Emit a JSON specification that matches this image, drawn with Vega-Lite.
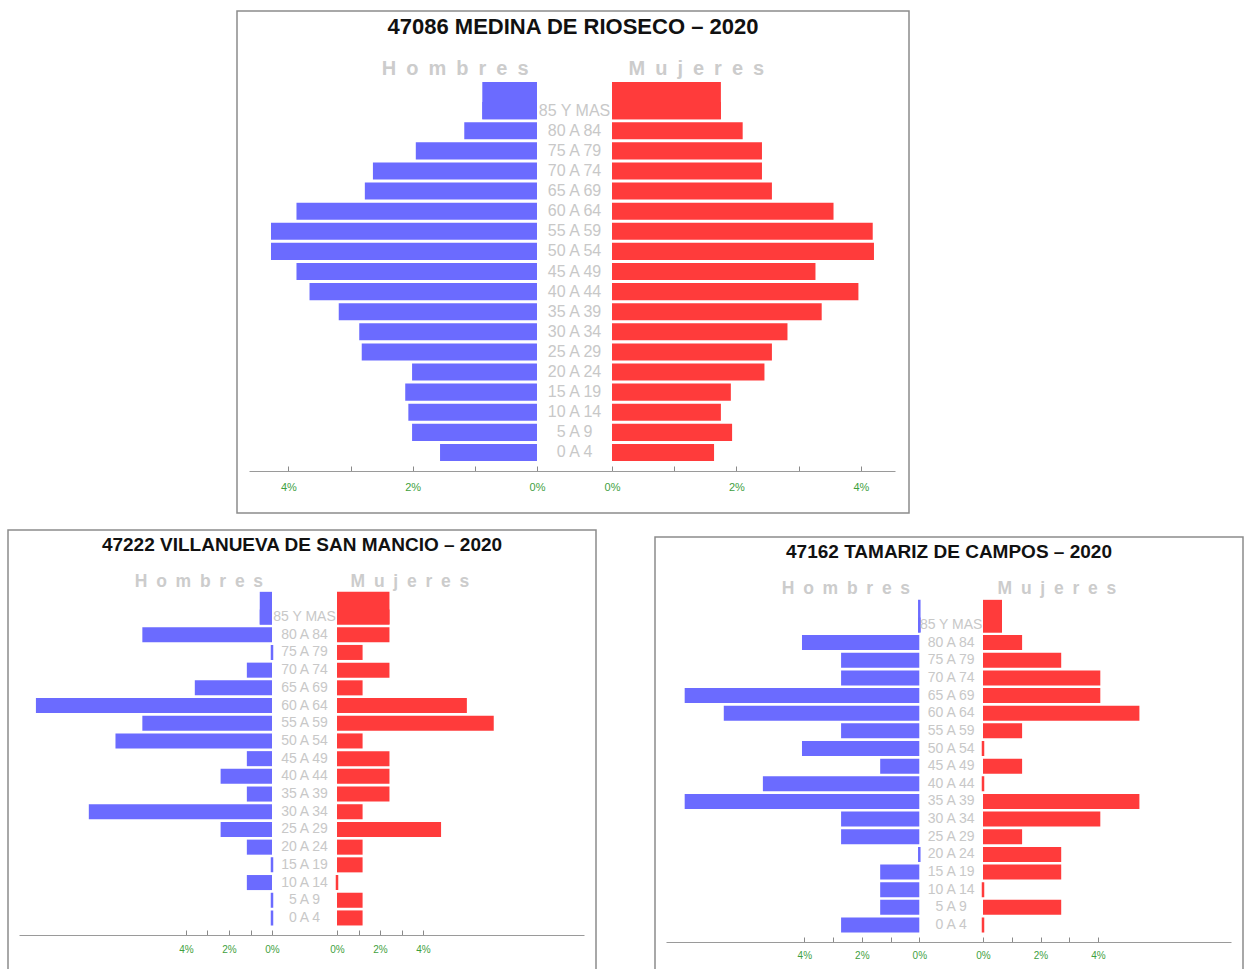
{
  "$schema": "https://vega.github.io/schema/vega-lite/v6.json",
  "background": "white",
  "padding": {"left": 7, "top": 10, "right": 0, "bottom": 0},
  "config": {"view": {"stroke": "#8c8c8c", "strokeWidth": 1.5}, "font": "Liberation Sans"},
  "datasets": {
    "medina": [
      {"age": "85 Y MAS", "h": 0.88, "m": 1.75},
      {"age": "80 A 84", "h": 1.17, "m": 2.10},
      {"age": "75 A 79", "h": 1.95, "m": 2.41},
      {"age": "70 A 74", "h": 2.64, "m": 2.41},
      {"age": "65 A 69", "h": 2.77, "m": 2.57},
      {"age": "60 A 64", "h": 3.87, "m": 3.56},
      {"age": "55 A 59", "h": 4.28, "m": 4.19},
      {"age": "50 A 54", "h": 4.28, "m": 4.21},
      {"age": "45 A 49", "h": 3.87, "m": 3.27},
      {"age": "40 A 44", "h": 3.66, "m": 3.96},
      {"age": "35 A 39", "h": 3.19, "m": 3.37},
      {"age": "30 A 34", "h": 2.86, "m": 2.82},
      {"age": "25 A 29", "h": 2.82, "m": 2.57},
      {"age": "20 A 24", "h": 2.01, "m": 2.45},
      {"age": "15 A 19", "h": 2.12, "m": 1.91},
      {"age": "10 A 14", "h": 2.07, "m": 1.75},
      {"age": "5 A 9", "h": 2.01, "m": 1.93},
      {"age": "0 A 4", "h": 1.56, "m": 1.64}
    ],
    "villanueva": [
      {"age": "85 Y MAS", "h": 0.57, "m": 2.44},
      {"age": "80 A 84", "h": 6.03, "m": 2.44},
      {"age": "75 A 79", "h": 0, "m": 1.19},
      {"age": "70 A 74", "h": 1.17, "m": 2.44},
      {"age": "65 A 69", "h": 3.59, "m": 1.19},
      {"age": "60 A 64", "h": 10.98, "m": 6.04},
      {"age": "55 A 59", "h": 6.03, "m": 7.29},
      {"age": "50 A 54", "h": 7.28, "m": 1.19},
      {"age": "45 A 49", "h": 1.17, "m": 2.44},
      {"age": "40 A 44", "h": 2.39, "m": 2.44},
      {"age": "35 A 39", "h": 1.17, "m": 2.44},
      {"age": "30 A 34", "h": 8.52, "m": 1.19},
      {"age": "25 A 29", "h": 2.39, "m": 4.84},
      {"age": "20 A 24", "h": 1.17, "m": 1.19},
      {"age": "15 A 19", "h": 0, "m": 1.19},
      {"age": "10 A 14", "h": 1.17, "m": 0},
      {"age": "5 A 9", "h": 0, "m": 1.19},
      {"age": "0 A 4", "h": 0, "m": 1.19}
    ],
    "tamariz": [
      {"age": "85 Y MAS", "h": 0, "m": 0.66},
      {"age": "80 A 84", "h": 4.08, "m": 1.36},
      {"age": "75 A 79", "h": 2.72, "m": 2.72},
      {"age": "70 A 74", "h": 2.72, "m": 4.08},
      {"age": "65 A 69", "h": 8.16, "m": 4.08},
      {"age": "60 A 64", "h": 6.8, "m": 5.44},
      {"age": "55 A 59", "h": 2.72, "m": 1.36},
      {"age": "50 A 54", "h": 4.08, "m": 0},
      {"age": "45 A 49", "h": 1.36, "m": 1.36},
      {"age": "40 A 44", "h": 5.44, "m": 0},
      {"age": "35 A 39", "h": 8.16, "m": 5.44},
      {"age": "30 A 34", "h": 2.72, "m": 4.08},
      {"age": "25 A 29", "h": 2.72, "m": 1.36},
      {"age": "20 A 24", "h": 0, "m": 2.72},
      {"age": "15 A 19", "h": 1.36, "m": 2.72},
      {"age": "10 A 14", "h": 1.36, "m": 0},
      {"age": "5 A 9", "h": 1.36, "m": 2.72},
      {"age": "0 A 4", "h": 2.72, "m": 0}
    ]
  },
  "spacing": 15,
  "vconcat": [
    {
      "spacing": 10,
      "hconcat": [
        {"width": 218, "height": 1, "data": {"values": [{"a": 0}]}, "mark": {"type": "point", "size": 0, "opacity": 0}, "encoding": {}, "view": {"stroke": null}},
        {
          "width": 672, "height": 502,
          "data": {"name": "medina"},
          "title": {"text": "47086 MEDINA DE RIOSECO \u2013 2020", "subtitle": "H\u2002o\u2002m\u2002b\u2002r\u2002e\u2002s\u2003\u2003\u2003\u2003\u2003M\u2002u\u2002j\u2002e\u2002r\u2002e\u2002s\u2002", "anchor": "middle", "frame": "group", "offset": -69, "font": "Liberation Sans", "fontSize": 22, "fontWeight": "bold", "color": "#111111", "subtitleFont": "Liberation Sans", "subtitleFontSize": 20, "subtitleFontWeight": "bold", "subtitleColor": "#cccccc", "subtitlePadding": 20},
          "resolve": {"scale": {"x": "independent"}},
          "layer": [
            {
              "mark": {"type": "bar", "color": "#6b6bff", "strokeWidth": 2.5},
              "encoding": {
                "y": {"field": "age", "type": "nominal", "axis": null, "scale": {"domain": ["TOP","85 Y MAS","80 A 84","75 A 79","70 A 74","65 A 69","60 A 64","55 A 59","50 A 54","45 A 49","40 A 44","35 A 39","30 A 34","25 A 29","20 A 24","15 A 19","10 A 14","5 A 9","0 A 4"], "range": [69.5, 451.5], "paddingInner": 0.15, "paddingOuter": 0.075}},
                "x": {"field": "h", "type": "quantitative", "scale": {"domain": [-1.207, 4.634], "range": [375, 12], "nice": false, "zero": false}, "axis": {"orient": "bottom", "offset": -42, "values": [0,1,2,3,4], "labelExpr": "datum.value % 2 === 0 ? datum.value + '%' : ''", "title": null, "grid": false, "domainColor": "#9a9a9a", "tickColor": "#8a8a8a", "tickSize": -5, "labelColor": "#3f9f3f", "labelFontSize": 11, "labelPadding": 15, "labelFlush": false, "labelFont": "Liberation Sans"}},
                "stroke": {"condition": {"test": "datum.h === 0", "value": "#6b6bff"}, "value": null}
              }
            },
            {
              "transform": [{"filter": "datum.age === '85 Y MAS'"}],
              "mark": {"type": "bar", "color": "#6b6bff", "strokeWidth": 2.5, "height": {"band": 2.1765}, "yOffset": -10.05},
              "encoding": {
                "y": {"field": "age", "type": "nominal", "axis": null},
                "x": {"field": "h", "type": "quantitative", "scale": {"domain": [-1.207, 4.634], "range": [375, 12], "nice": false, "zero": false}, "axis": null},
                "stroke": {"condition": {"test": "datum.h === 0", "value": "#6b6bff"}, "value": null}
              }
            },
            {
              "mark": {"type": "bar", "color": "#ff3b3b", "strokeWidth": 2.5},
              "encoding": {
                "y": {"field": "age", "type": "nominal", "axis": null},
                "x": {"field": "m", "type": "quantitative", "scale": {"domain": [0, 4.548], "range": [375, 658], "nice": false, "zero": false}, "axis": {"orient": "bottom", "offset": -42, "values": [0,1,2,3,4], "labelExpr": "datum.value % 2 === 0 ? datum.value + '%' : ''", "title": null, "grid": false, "domainColor": "#9a9a9a", "tickColor": "#8a8a8a", "tickSize": -5, "labelColor": "#3f9f3f", "labelFontSize": 11, "labelPadding": 15, "labelFlush": false, "labelFont": "Liberation Sans"}},
                "stroke": {"condition": {"test": "datum.m === 0", "value": "#ff3b3b"}, "value": null}
              }
            },
            {
              "transform": [{"filter": "datum.age === '85 Y MAS'"}],
              "mark": {"type": "bar", "color": "#ff3b3b", "strokeWidth": 2.5, "height": {"band": 2.1765}, "yOffset": -10.05},
              "encoding": {
                "y": {"field": "age", "type": "nominal", "axis": null},
                "x": {"field": "m", "type": "quantitative", "scale": {"domain": [0, 4.548], "range": [375, 658], "nice": false, "zero": false}, "axis": null},
                "stroke": {"condition": {"test": "datum.m === 0", "value": "#ff3b3b"}, "value": null}
              }
            },
            {
              "mark": {"type": "text", "font": "Liberation Sans", "fontSize": 16, "color": "#c8c8c8"},
              "encoding": {
                "y": {"field": "age", "type": "nominal", "axis": null},
                "x": {"datum": 0, "type": "quantitative", "scale": {"domain": [-1, 1], "range": [300, 375]}, "axis": null},
                "text": {"field": "age"}
              }
            }
          ]
        }
      ]
    },
    {
      "spacing": 57,
      "hconcat": [
        {
          "width": 588, "height": 445,
          "data": {"name": "villanueva"},
          "title": {"text": "47222 VILLANUEVA DE SAN MANCIO \u2013 2020", "subtitle": "H\u2002o\u2002m\u2002b\u2002r\u2002e\u2002s\u2003\u2003\u2003\u2003\u2003M\u2002u\u2002j\u2002e\u2002r\u2002e\u2002s\u2002", "anchor": "middle", "frame": "group", "offset": -60, "font": "Liberation Sans", "fontSize": 19, "fontWeight": "bold", "color": "#111111", "subtitleFont": "Liberation Sans", "subtitleFontSize": 17.5, "subtitleFontWeight": "bold", "subtitleColor": "#cccccc", "subtitlePadding": 18},
          "resolve": {"scale": {"x": "independent"}},
          "layer": [
            {
              "mark": {"type": "bar", "color": "#6b6bff", "strokeWidth": 2.5},
              "encoding": {
                "y": {"field": "age", "type": "nominal", "axis": null, "scale": {"domain": ["TOP","85 Y MAS","80 A 84","75 A 79","70 A 74","65 A 69","60 A 64","55 A 59","50 A 54","45 A 49","40 A 44","35 A 39","30 A 34","25 A 29","20 A 24","15 A 19","10 A 14","5 A 9","0 A 4"], "range": [60.5, 396.8], "paddingInner": 0.15, "paddingOuter": 0.075}},
                "x": {"field": "h", "type": "quantitative", "scale": {"domain": [-3.023, 11.767], "range": [329, 11], "nice": false, "zero": false}, "axis": {"orient": "bottom", "offset": -40, "values": [0,1,2,3,4], "labelExpr": "datum.value % 2 === 0 ? datum.value + '%' : ''", "title": null, "grid": false, "domainColor": "#9a9a9a", "tickColor": "#8a8a8a", "tickSize": -5, "labelColor": "#3f9f3f", "labelFontSize": 10, "labelPadding": 14, "labelFlush": false, "labelFont": "Liberation Sans"}},
                "stroke": {"condition": {"test": "datum.h === 0", "value": "#6b6bff"}, "value": null}
              }
            },
            {
              "transform": [{"filter": "datum.age === '85 Y MAS'"}],
              "mark": {"type": "bar", "color": "#6b6bff", "strokeWidth": 2.5, "height": {"band": 2.1765}, "yOffset": -8.85},
              "encoding": {
                "y": {"field": "age", "type": "nominal", "axis": null},
                "x": {"field": "h", "type": "quantitative", "scale": {"domain": [-3.023, 11.767], "range": [329, 11], "nice": false, "zero": false}, "axis": null},
                "stroke": {"condition": {"test": "datum.h === 0", "value": "#6b6bff"}, "value": null}
              }
            },
            {
              "mark": {"type": "bar", "color": "#ff3b3b", "strokeWidth": 2.5},
              "encoding": {
                "y": {"field": "age", "type": "nominal", "axis": null},
                "x": {"field": "m", "type": "quantitative", "scale": {"domain": [0, 11.488], "range": [329, 576], "nice": false, "zero": false}, "axis": {"orient": "bottom", "offset": -40, "values": [0,1,2,3,4], "labelExpr": "datum.value % 2 === 0 ? datum.value + '%' : ''", "title": null, "grid": false, "domainColor": "#9a9a9a", "tickColor": "#8a8a8a", "tickSize": -5, "labelColor": "#3f9f3f", "labelFontSize": 10, "labelPadding": 14, "labelFlush": false, "labelFont": "Liberation Sans"}},
                "stroke": {"condition": {"test": "datum.m === 0", "value": "#ff3b3b"}, "value": null}
              }
            },
            {
              "transform": [{"filter": "datum.age === '85 Y MAS'"}],
              "mark": {"type": "bar", "color": "#ff3b3b", "strokeWidth": 2.5, "height": {"band": 2.1765}, "yOffset": -8.85},
              "encoding": {
                "y": {"field": "age", "type": "nominal", "axis": null},
                "x": {"field": "m", "type": "quantitative", "scale": {"domain": [0, 11.488], "range": [329, 576], "nice": false, "zero": false}, "axis": null},
                "stroke": {"condition": {"test": "datum.m === 0", "value": "#ff3b3b"}, "value": null}
              }
            },
            {
              "mark": {"type": "text", "font": "Liberation Sans", "fontSize": 14, "color": "#c8c8c8"},
              "encoding": {
                "y": {"field": "age", "type": "nominal", "axis": null},
                "x": {"datum": 0, "type": "quantitative", "scale": {"domain": [-1, 1], "range": [264, 329]}, "axis": null},
                "text": {"field": "age"}
              }
            }
          ]
        },
        {
          "spacing": 5,
          "vconcat": [
            {"width": 1, "height": 1, "data": {"values": [{"a": 0}]}, "mark": {"type": "point", "size": 0, "opacity": 0}, "encoding": {}, "view": {"stroke": null}},
            {
              "width": 588, "height": 438,
              "data": {"name": "tamariz"},
              "title": {"text": "47162 TAMARIZ DE CAMPOS \u2013 2020", "subtitle": "H\u2002o\u2002m\u2002b\u2002r\u2002e\u2002s\u2003\u2003\u2003\u2003\u2003M\u2002u\u2002j\u2002e\u2002r\u2002e\u2002s\u2002", "anchor": "middle", "frame": "group", "offset": -60, "font": "Liberation Sans", "fontSize": 19, "fontWeight": "bold", "color": "#111111", "subtitleFont": "Liberation Sans", "subtitleFontSize": 17.5, "subtitleFontWeight": "bold", "subtitleColor": "#cccccc", "subtitlePadding": 18},
              "resolve": {"scale": {"x": "independent"}},
              "layer": [
                {
                  "mark": {"type": "bar", "color": "#6b6bff", "strokeWidth": 2.5},
                  "encoding": {
                    "y": {"field": "age", "type": "nominal", "axis": null, "scale": {"domain": ["TOP","85 Y MAS","80 A 84","75 A 79","70 A 74","65 A 69","60 A 64","55 A 59","50 A 54","45 A 49","40 A 44","35 A 39","30 A 34","25 A 29","20 A 24","15 A 19","10 A 14","5 A 9","0 A 4"], "range": [61.5, 396.8], "paddingInner": 0.15, "paddingOuter": 0.075}},
                    "x": {"field": "h", "type": "quantitative", "scale": {"domain": [-2.216, 8.81], "range": [328, 11], "nice": false, "zero": false}, "axis": {"orient": "bottom", "offset": -33, "values": [0,1,2,3,4], "labelExpr": "datum.value % 2 === 0 ? datum.value + '%' : ''", "title": null, "grid": false, "domainColor": "#9a9a9a", "tickColor": "#8a8a8a", "tickSize": -5, "labelColor": "#3f9f3f", "labelFontSize": 10, "labelPadding": 13, "labelFlush": false, "labelFont": "Liberation Sans"}},
                    "stroke": {"condition": {"test": "datum.h === 0", "value": "#6b6bff"}, "value": null}
                  }
                },
                {
                  "transform": [{"filter": "datum.age === '85 Y MAS'"}],
                  "mark": {"type": "bar", "color": "#6b6bff", "strokeWidth": 2.5, "height": {"band": 2.1765}, "yOffset": -8.82},
                  "encoding": {
                    "y": {"field": "age", "type": "nominal", "axis": null},
                    "x": {"field": "h", "type": "quantitative", "scale": {"domain": [-2.216, 8.81], "range": [328, 11], "nice": false, "zero": false}, "axis": null},
                    "stroke": {"condition": {"test": "datum.h === 0", "value": "#6b6bff"}, "value": null}
                  }
                },
                {
                  "mark": {"type": "bar", "color": "#ff3b3b", "strokeWidth": 2.5},
                  "encoding": {
                    "y": {"field": "age", "type": "nominal", "axis": null},
                    "x": {"field": "m", "type": "quantitative", "scale": {"domain": [0, 8.626], "range": [328, 576], "nice": false, "zero": false}, "axis": {"orient": "bottom", "offset": -33, "values": [0,1,2,3,4], "labelExpr": "datum.value % 2 === 0 ? datum.value + '%' : ''", "title": null, "grid": false, "domainColor": "#9a9a9a", "tickColor": "#8a8a8a", "tickSize": -5, "labelColor": "#3f9f3f", "labelFontSize": 10, "labelPadding": 13, "labelFlush": false, "labelFont": "Liberation Sans"}},
                    "stroke": {"condition": {"test": "datum.m === 0", "value": "#ff3b3b"}, "value": null}
                  }
                },
                {
                  "transform": [{"filter": "datum.age === '85 Y MAS'"}],
                  "mark": {"type": "bar", "color": "#ff3b3b", "strokeWidth": 2.5, "height": {"band": 2.1765}, "yOffset": -8.82},
                  "encoding": {
                    "y": {"field": "age", "type": "nominal", "axis": null},
                    "x": {"field": "m", "type": "quantitative", "scale": {"domain": [0, 8.626], "range": [328, 576], "nice": false, "zero": false}, "axis": null},
                    "stroke": {"condition": {"test": "datum.m === 0", "value": "#ff3b3b"}, "value": null}
                  }
                },
                {
                  "mark": {"type": "text", "font": "Liberation Sans", "fontSize": 14, "color": "#c8c8c8"},
                  "encoding": {
                    "y": {"field": "age", "type": "nominal", "axis": null},
                    "x": {"datum": 0, "type": "quantitative", "scale": {"domain": [-1, 1], "range": [264.3, 328]}, "axis": null},
                    "text": {"field": "age"}
                  }
                }
              ]
            }
          ]
        }
      ]
    }
  ]
}
